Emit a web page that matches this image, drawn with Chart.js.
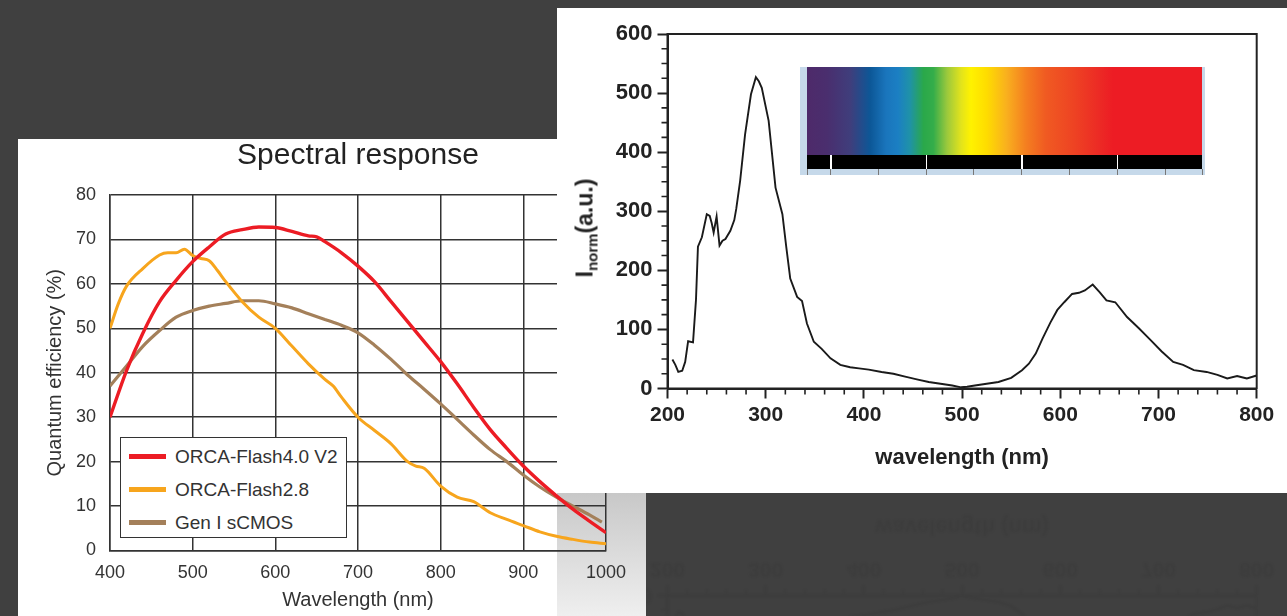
<!DOCTYPE html>
<html>
<head>
<meta charset="utf-8">
<script src="https://cdn.jsdelivr.net/npm/chart.js@4/dist/chart.umd.min.js"></script>
<style>
  body { margin: 0; width: 1287px; height: 616px; overflow: hidden; position: relative; background: #404040; font-family: "Liberation Sans", Arial, sans-serif; }
  .panel { position: absolute; background: #fff; }
  #leftPanel { left: 18px; top: 139px; width: 628px; height: 477px; }
  #rightPanel { left: 557px; top: 8px; width: 730px; height: 485px; }
  #shade { position: absolute; left: 539px; top: 354px; width: 89px; height: 123px; background: linear-gradient(#c8c8c8, #efefef); }
  canvas { position: absolute; left: 0; top: 0; }
  #reflection { left: 557px; top: 492px; filter: blur(1.2px); }
  #qeLegend { position: absolute; left: 102px; top: 298px; width: 225px; height: 97px; border: 1.5px solid #333; background: #fff; padding-top: 2px; box-sizing: content-box; }
  #qeLegend .row { height: 33px; display: flex; align-items: center; color: #333; font-size: 19px; }
  #qeLegend .swatch { width: 37px; height: 5px; margin: 0 9px 0 8px; }
  #yTitle { position: absolute; left: 29px; top: 220px; transform: translate(-50%, -50%) rotate(-90deg); white-space: nowrap; font-weight: bold; font-size: 23px; color: #222; }
  #yTitle sub { font-size: 15px; vertical-align: -5px; }
  #spectrum { position: absolute; left: 243px; top: 59px; width: 405px; height: 108px; background: #c6d9ea; }
  #spectrum .band { position: absolute; left: 7px; top: 0; width: 395px; height: 88px;
    background: linear-gradient(to right, #4e2a6a 0%, #4a2e6e 5%, #3f3e7c 11%, #0c5797 16%, #1a75bc 20%, #1b7fc3 23%, #1f92a8 26%, #2aa84a 29.5%, #34ad4a 32%, #9cc93c 35.5%, #e2e31c 39%, #fff200 41.5%, #fedc00 45.5%, #f9b01e 50.5%, #f47e20 55.5%, #f05a22 60.5%, #ee4323 67.5%, #ec2a25 74%, #ed1c24 77.5%, #ed1c24 100%); }
  #spectrum .bar { position: absolute; left: 7px; top: 88px; width: 395px; height: 14px; background: #000; }
  #spectrum .tick { position: absolute; }
</style>
</head>
<body>
<canvas id="reflection" width="730" height="124"></canvas>

<div class="panel" id="leftPanel">
  <div id="shade"></div>
  <canvas id="qeChart" width="628" height="477"></canvas>
  <div id="qeLegend"></div>
</div>

<div class="panel" id="rightPanel">
  <canvas id="specChart" width="730" height="485"></canvas>
  <div id="yTitle">I<sub>norm</sub>(a.u.)</div>
  <div id="spectrum"><div class="band"></div><div class="bar"></div></div>
</div>

<script>
// quantum efficiency curves (%)
const flash4Nm = [400, 420, 440, 460, 480, 500, 520, 540, 560, 580, 600, 620, 640, 650, 660, 680, 700, 720, 740, 760, 780, 800, 820, 840, 860, 880, 900, 920, 940, 960, 980, 1000];
const flash4Qe = [30, 40.5, 49, 56, 60.8, 65, 68.3, 71.2, 72.2, 72.8, 72.7, 71.8, 70.8, 70.6, 69.5, 67, 64, 60.5, 56, 51.5, 47, 42.5, 37.5, 32.2, 27.2, 23, 19, 15.5, 12.3, 9.3, 6.6, 4];

const flash28Nm = [400, 410, 420, 440, 460, 470, 480, 490, 500, 510, 520, 530, 540, 560, 580, 600, 620, 640, 660, 670, 680, 700, 720, 740, 760, 770, 780, 800, 820, 840, 860, 880, 900, 920, 940, 960, 980, 1000];
const flash28Qe = [50, 55.5, 59.5, 63.5, 66.5, 67, 67, 67.8, 66.4, 65.7, 65.2, 63, 60.5, 56, 52.5, 50, 46, 42, 38.5, 37, 34.5, 30, 27, 24, 20, 19, 18.5, 14.5, 12, 11, 8.5, 7, 5.6, 4.2, 3.2, 2.5, 1.9, 1.5];

const sCmosNm = [400, 420, 440, 460, 480, 500, 520, 540, 560, 580, 600, 620, 640, 660, 680, 700, 720, 740, 760, 780, 800, 820, 840, 860, 880, 900, 920, 940, 960, 980, 995];
const sCmosQe = [37, 41.5, 46, 49.5, 52.5, 54, 55, 55.6, 56.2, 56.2, 55.5, 54.6, 53.3, 52, 50.7, 49, 46.2, 43, 39.5, 36.3, 33, 29.5, 26, 22.7, 20, 17, 14.3, 12, 10, 8, 6.4];

const qeLabels = ['ORCA-Flash4.0 V2', 'ORCA-Flash2.8', 'Gen I sCMOS'];
const qeColors = ['#ec1c24', '#f7a51d', '#a4805a'];

// normalised emission spectrum
const specNm = [205, 208, 211, 215, 218, 221, 226, 229, 231, 235, 240, 243, 245, 247, 250, 253, 256, 259, 264, 268, 270, 274, 279, 285, 290, 293, 296, 303, 310, 317, 321, 325, 332, 337, 342, 349, 357, 366, 376, 386, 395, 405, 418, 430, 442, 455, 466, 478, 490, 499, 505, 513, 525, 537, 550, 561, 568, 575, 582, 590, 597, 604, 612, 619, 625, 633, 640, 647, 656, 668, 680, 692, 703, 715, 725, 736, 749, 760, 770, 780, 790, 800];
const specIntensity = [49, 40, 28, 30, 45, 80, 78, 150, 240, 256, 295, 292, 280, 264, 291, 242, 250, 253, 267, 285, 304, 352, 430, 498, 527, 520, 509, 453, 340, 295, 239, 186, 155, 148, 110, 79, 67, 51, 40, 36, 34, 32, 28, 25, 20, 15, 11, 8, 5, 2, 3, 5, 8, 11, 18, 31, 42, 59, 85, 112, 133, 146, 160, 162, 166, 176, 163, 149, 146, 121, 102, 82, 63, 45, 40, 31, 28, 23, 17, 21, 17, 22];

const specMinorX = [];
for (let v = 220; v < 800; v += 20) if (v % 100) specMinorX.push(v);
const specMinorY = [];
for (let v = 25; v < 600; v += 25) if (v % 100) specMinorY.push(v);

const pairs = (xs, ys) => xs.map((x, i) => ({ x: x, y: ys[i] }));
const plain = v => String(v);

Chart.defaults.font.family = '"Liberation Sans", Arial, sans-serif';

const qeChart = new Chart(document.getElementById('qeChart'), {
  type: 'line',
  data: {
    datasets: [
      { label: qeLabels[0], data: pairs(flash4Nm, flash4Qe), borderColor: qeColors[0], borderWidth: 3.4 },
      { label: qeLabels[1], data: pairs(flash28Nm, flash28Qe), borderColor: qeColors[1], borderWidth: 3 },
      { label: qeLabels[2], data: pairs(sCmosNm, sCmosQe), borderColor: qeColors[2], borderWidth: 3.2 }
    ]
  },
  options: {
    responsive: false,
    animation: false,
    layout: { padding: { right: 40 } },
    elements: { point: { radius: 0 }, line: { cubicInterpolationMode: 'monotone' } },
    plugins: {
      legend: { display: false },
      tooltip: { enabled: false },
      title: {
        display: true, text: 'Spectral response', fullSize: false, color: '#222',
        font: { size: 30, weight: 'normal', lineHeight: 0.9 }, padding: { top: 3, bottom: 26 }
      }
    },
    scales: {
      x: {
        type: 'linear', min: 400, max: 1000,
        ticks: { stepSize: 100, padding: 12, color: '#333', font: { size: 18 }, callback: plain },
        grid: { color: '#333', lineWidth: 1.5, drawTicks: false },
        border: { color: '#333', width: 1.5 },
        title: { display: true, text: 'Wavelength (nm)', color: '#333', font: { size: 20 }, padding: { top: 0, bottom: 4 } },
        afterFit: s => { s.height = 65.5; }
      },
      y: {
        min: 0, max: 80,
        ticks: { stepSize: 10, padding: 14, color: '#333', font: { size: 18 } },
        grid: { color: '#333', lineWidth: 1.5, drawTicks: false },
        border: { color: '#333', width: 1.5 },
        title: { display: true, text: 'Quantum efficiency (%)', color: '#333', font: { size: 20 }, padding: { top: 25, bottom: 0 } },
        afterFit: s => { s.width = 92; }
      }
    }
  }
});

// legend box inside the plot, built from the datasets
const legendBox = document.getElementById('qeLegend');
qeChart.data.datasets.forEach(ds => {
  const row = document.createElement('div');
  row.className = 'row';
  const sw = document.createElement('span');
  sw.className = 'swatch';
  sw.style.background = ds.borderColor;
  row.appendChild(sw);
  row.appendChild(document.createTextNode(ds.label));
  legendBox.appendChild(row);
});

// frame + minor ticks for the emission plot
const frameTicks = {
  id: 'frameTicks',
  afterDraw(chart) {
    const { ctx, chartArea: a, scales: { x, y } } = chart;
    ctx.save();
    ctx.strokeStyle = '#222';
    ctx.lineWidth = 2;
    ctx.strokeRect(a.left, a.top, a.right - a.left, a.bottom - a.top);
    ctx.lineWidth = 1.6;
    ctx.beginPath();
    specMinorX.forEach(v => {
      const px = x.getPixelForValue(v);
      ctx.moveTo(px, a.bottom);
      ctx.lineTo(px, a.bottom + 6);
    });
    specMinorY.forEach(v => {
      const py = y.getPixelForValue(v);
      ctx.moveTo(a.left, py);
      ctx.lineTo(a.left - 6, py);
    });
    ctx.stroke();
    ctx.restore();
  }
};

// faint mirror image under the right panel
const mirror = {
  id: 'mirror',
  afterRender(chart) {
    const rc = document.getElementById('reflection').getContext('2d');
    rc.clearRect(0, 0, 730, 124);
    rc.save();
    rc.globalAlpha = 0.1;
    rc.setTransform(1, 0, 0, -1, 0, 484);
    rc.drawImage(chart.canvas, 0, 0);
    rc.restore();
  }
};

new Chart(document.getElementById('specChart'), {
  type: 'line',
  data: {
    datasets: [{ data: pairs(specNm, specIntensity), borderColor: '#1a1a1a', borderWidth: 1.9, tension: 0 }]
  },
  options: {
    responsive: false,
    animation: false,
    layout: { padding: { top: 26, right: 30.3 } },
    elements: { point: { radius: 0 } },
    plugins: { legend: { display: false }, tooltip: { enabled: false } },
    scales: {
      x: {
        type: 'linear', min: 200, max: 800,
        ticks: { stepSize: 100, padding: 4.5, color: '#222', font: { size: 21, weight: 'bold' }, callback: plain },
        grid: { drawOnChartArea: false, tickLength: 10, tickColor: '#222', tickWidth: 2 },
        border: { color: '#222', width: 2 },
        title: { display: true, text: 'wavelength (nm)', color: '#222', font: { size: 22, weight: 'bold' }, padding: { top: 0, bottom: 22 } },
        afterFit: s => { s.height = 104.5; }
      },
      y: {
        min: 0, max: 600,
        ticks: { stepSize: 100, padding: 5, color: '#222', font: { size: 22, weight: 'bold' } },
        grid: { drawOnChartArea: false, tickLength: 10, tickColor: '#222', tickWidth: 2 },
        border: { color: '#222', width: 2 },
        afterFit: s => { s.width = 110.5; }
      }
    }
  },
  plugins: [frameTicks, mirror]
});

// wavelength ruler under the colour band
const spectrum = document.getElementById('spectrum');
[23, 118.7, 214, 309.7].forEach(p => {
  const t = document.createElement('div');
  t.className = 'tick';
  Object.assign(t.style, { left: (7 + p) + 'px', top: '88px', width: '1.5px', height: '14px', background: '#fff' });
  spectrum.appendChild(t);
});
[0, 23, 70.7, 118.7, 166.3, 214, 262, 309.7, 358, 394.7].forEach(p => {
  const t = document.createElement('div');
  t.className = 'tick';
  Object.assign(t.style, { left: (7 + p) + 'px', top: '102px', width: '1px', height: '6px', background: '#777' });
  spectrum.appendChild(t);
});
</script>
</body>
</html>
